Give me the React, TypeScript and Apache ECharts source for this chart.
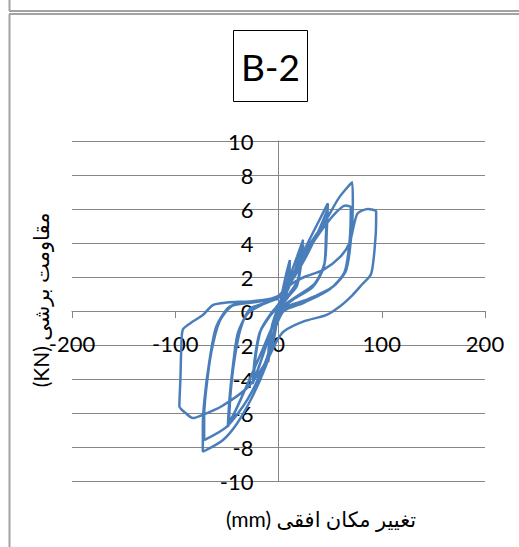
import React, { useEffect, useRef } from "react";
import * as echarts from "echarts";

// Displacement (mm), force (KN) pairs, cycle by cycle
const cycle10: [number, number][] = [
  [0, 0], [4, 1.2], [8, 2.3], [11, 3.0], [10, 2.0], [7, 0.8], [3, 0.2], [0, -0.3],
  [-4, -1.2], [-8, -2.3], [-10, -3.0], [-9, -2.0], [-6, -0.8], [-2, -0.1], [2, 0.4],
  [6, 1.5], [11, 2.9], [10, 1.8], [6, 0.6], [2, 0], [-3, -0.8], [-7, -1.9], [-10, -2.9],
  [-9, -1.8], [-5, -0.6], [-1, 0.1],
];
const cycle25: [number, number][] = [
  [5, 1.0], [12, 2.2], [18, 3.2], [23.6, 4.14], [22, 3.2], [18.7, 1.8], [10.7, 1.04], [4, 0.4],
  [-2, -0.3], [-8, -1.3], [-15, -2.6], [-21, -3.6], [-24.9, -4.25], [-23.2, -2.9], [-18.4, -1.3],
  [-8.7, -0.33], [0, 0.3],
  [8, 1.1], [15, 2.2], [21, 3.4], [24, 3.9], [22, 2.8], [18, 1.5], [9, 0.8], [2, 0.2],
  [-5, -0.8], [-12, -2.0], [-19, -3.3], [-24, -4.0], [-22, -2.6], [-17, -1.1], [-8, -0.2], [0, 0.4],
];
const cycle48: [number, number][] = [
  [10, 1.6], [20, 2.9], [30, 4.2], [40, 5.4], [47.8, 6.33], [46.8, 4.76], [44.6, 2.8], [34.9, 1.6],
  [17, 0.84], [5, 0.3], [-3, -0.5], [-12, -1.8], [-25, -3.6], [-38, -5.4], [-49.1, -6.8],
  [-47.5, -5.2], [-44.3, -3.3], [-39.4, -1.3], [-29.7, -0.14], [-15, 0.4], [0, 0.8],
  [12, 1.7], [25, 3.0], [38, 4.6], [47, 5.9], [46, 4.5], [44, 2.6], [33, 1.4], [15, 0.7], [3, 0.1],
  [-5, -0.8], [-15, -2.2], [-30, -4.3], [-42, -5.9], [-48, -6.6], [-46.5, -4.9], [-43, -3.0],
  [-37, -1.1], [-28, 0.1], [-12, 0.5], [0, 0.8],
];
const cycle72: [number, number][] = [
  [10.6, 1.8], [26.8, 3.6], [46, 5.35], [59, 6.7], [71.4, 7.57], [72, 6.33], [70.4, 4.37],
  [65.5, 2.4], [52.6, 1.43], [26.8, 0.65], [7.4, 0.25], [0, -0.3], [-5, -1.8], [-12, -3.2],
  [-25, -5.0], [-40, -6.6], [-54, -7.6], [-73.3, -8.28], [-73.3, -6.8], [-71.7, -5.2],
  [-66.8, -2.9], [-60.3, -0.92], [-47.5, 0.25], [-28, 0.55], [-10, 0.7], [0, 0.9],
  [10, 1.6], [30, 3.7], [50, 5.4], [65, 6.2], [70, 6.1], [69, 4.2], [64, 2.3], [50, 1.3],
  [25, 0.5], [5, 0], [-3, -1.0], [-12, -2.9], [-30, -5.2], [-50, -6.8], [-72, -7.6],
  [-72, -6.2], [-70, -4.6], [-65, -2.4], [-57, -0.6], [-45, 0.3], [-25, 0.5], [0, 0.8],
];
const cycle95: [number, number][] = [
  [10.6, 1.5], [25, 2.0], [43, 2.4], [60, 3.2], [68.8, 4.0], [73.6, 5.2], [76.8, 5.75],
  [86.5, 6.0], [94.6, 5.84], [94, 4.37], [89.8, 2.2], [80, 1.5], [71.7, 0.94], [60, 0.3],
  [46, -0.24], [25, -0.6], [5, -1.2], [-2, -1.8], [-12, -3.0], [-30, -4.5], [-55, -5.6],
  [-73, -6.1], [-83, -6.3], [-90, -6.0], [-96, -5.6], [-95, -4.0], [-94.2, -2.3],
  [-92.7, -1.1], [-85, -0.7], [-73.3, -0.24], [-63.6, 0.35], [-50, 0.5], [-34.6, 0.55],
  [-15, 0.6], [0, 0.7],
];

const xTicks = { min: -200, max: 200, step: 100 };
const yTicks = { min: -10, max: 10, step: 2 };

const titleText = "B-2";
const xName = "(mm) تغییر مکان افقی";
const yName = "(KN) مقاومت برشی";

const FONT = "Lato, 'DejaVu Sans', sans-serif";

export default function App() {
  const ref = useRef<HTMLDivElement>(null);
  useEffect(() => {
    if (!ref.current) return;
    const chart = echarts.init(ref.current, null, { renderer: "svg" });
    const data = [...cycle10, ...cycle25, ...cycle48, ...cycle72, ...cycle95];
    const gray = "#868686";
    const border = "#a3a3a3";
    const gridBox = { left: 72, right: 34, top: 141, bottom: 66 };
    const plotW = 519 - gridBox.left - gridBox.right;
    const plotH = 547 - gridBox.top - gridBox.bottom;
    // move the axes to cross at zero (labels included)
    const yAxisOffset = -plotW * ((0 - xTicks.min) / (xTicks.max - xTicks.min));
    const xAxisOffset = -plotH * ((0 - yTicks.min) / (yTicks.max - yTicks.min));
    chart.setOption({
      animation: false,
      backgroundColor: "#ffffff",
      grid: { ...gridBox, outerBoundsMode: "none" },
      xAxis: {
        type: "value",
        min: xTicks.min,
        max: xTicks.max,
        interval: xTicks.step,
        position: "bottom",
        offset: xAxisOffset,
        axisLine: { show: true, onZero: false, lineStyle: { color: gray, width: 1 } },
        axisTick: { show: true, inside: false, length: 7, lineStyle: { color: gray } },
        axisLabel: { color: "#000", fontSize: 22, fontFamily: FONT, margin: 21 },
        splitLine: { show: false },
      },
      yAxis: {
        type: "value",
        min: yTicks.min,
        max: yTicks.max,
        interval: yTicks.step,
        position: "left",
        offset: yAxisOffset,
        axisLine: { show: true, onZero: false, lineStyle: { color: gray, width: 1 } },
        axisTick: { show: true, inside: false, length: 8, lineStyle: { color: gray } },
        axisLabel: { color: "#000", fontSize: 22, fontFamily: FONT, margin: 25 },
        splitLine: { show: true, lineStyle: { color: gray, width: 1 } },
      },
      series: [
        {
          type: "line",
          data,
          showSymbol: false,
          symbol: "none",
          smooth: 0.25,
          lineStyle: { color: "#4a7ebb", width: 2.5 },
        },
      ],
      graphic: [
        { type: "line", shape: { x1: 9.5, y1: 0, x2: 9.5, y2: 11 }, style: { stroke: border, lineWidth: 2 } },
        { type: "line", shape: { x1: 9, y1: 11, x2: 519, y2: 11 }, style: { stroke: border, lineWidth: 2 } },
        { type: "line", shape: { x1: 9, y1: 14, x2: 519, y2: 14 }, style: { stroke: border, lineWidth: 2 } },
        { type: "line", shape: { x1: 9.5, y1: 14, x2: 9.5, y2: 547 }, style: { stroke: border, lineWidth: 2 } },
        {
          type: "rect",
          shape: { x: 233.5, y: 30.5, width: 74, height: 71 },
          style: { fill: "#fff", stroke: "#000", lineWidth: 1 },
        },
        {
          type: "text",
          x: 270.5,
          y: 66,
          style: {
            text: titleText,
            fontSize: 37,
            fontFamily: FONT,
            fill: "#000",
            textAlign: "center",
            textVerticalAlign: "middle",
          },
        },
        {
          type: "text",
          x: 40,
          y: 300,
          rotation: Math.PI / 2,
          style: {
            text: yName,
            fontSize: 21,
            fontFamily: FONT,
            fill: "#000",
            textAlign: "center",
            textVerticalAlign: "middle",
          },
        },
        {
          type: "text",
          x: 321,
          y: 518,
          style: {
            text: xName,
            fontSize: 21,
            fontFamily: FONT,
            fill: "#000",
            textAlign: "center",
            textVerticalAlign: "middle",
          },
        },
      ],
    });
    return () => chart.dispose();
  }, []);
  return (
    <div
      ref={ref}
      style={{ position: "fixed", left: 0, top: 0, width: 519, height: 547 }}
    />
  );
}
